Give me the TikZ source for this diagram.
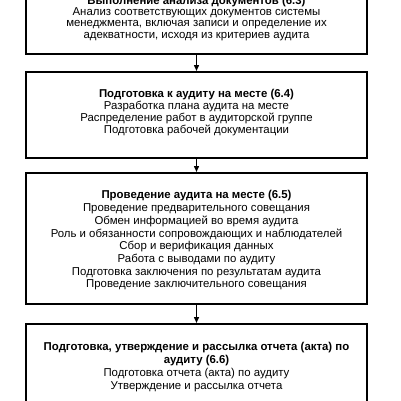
\documentclass[tikz,border=0pt]{standalone}
\usepackage{fontspec}
\setmainfont{Liberation Sans}
\usetikzlibrary{arrows.meta}
\begin{document}
\begin{tikzpicture}[x=1pt,y=-1pt,
  stage/.style={draw=black, line width=1.6pt, minimum width=341pt, inner sep=0pt, anchor=north},
  txt/.style={align=center, inner sep=0pt, anchor=north},
  flow/.style={line width=1.4pt, -{Triangle[length=6pt,width=5pt]}}]
\useasboundingbox (0,0) rectangle (401,400);
\fill[white] (0,0) rectangle (401,400);
\begin{scope}
\clip (0,0) rectangle (401,400);
\node[stage, minimum height=100pt] (b1) at (196.5,-47) {};
\node[stage, minimum height=86pt] (b2) at (196.5,71) {};
\node[stage, minimum height=131pt] (b3) at (196.5,172) {};
\node[stage, minimum height=120pt] (b4) at (196.5,323) {};
\node[txt, font=\fontsize{11.4}{11.2}\selectfont] (t1) at (196.5,-4) {\textbf{Выполнение анализа документов (6.3)}\\Анализ соответствующих документов системы\\менеджмента, включая записи и определение их\\адекватности, исходя из критериев аудита};
\node[txt, font=\fontsize{11.4}{12}\selectfont] (t2) at (196.5,88.7) {\textbf{Подготовка к аудиту на месте (6.4)}\\Разработка плана аудита на месте\\Распределение работ в аудиторской группе\\Подготовка рабочей документации};
\node[txt, font=\fontsize{11.4}{12.7}\selectfont] (t3) at (196.5,190.5) {\textbf{Проведение аудита на месте (6.5)}\\Проведение предварительного совещания\\Обмен информацией во время аудита\\Роль и обязанности сопровождающих и наблюдателей\\Сбор и верификация данных\\Работа с выводами по аудиту\\Подготовка заключения по результатам аудита\\Проведение заключительного совещания};
\node[txt, font=\fontsize{11.4}{13}\selectfont] (t4) at (196.5,342) {\textbf{Подготовка, утверждение и рассылка отчета (акта) по}\\\textbf{аудиту (6.6)}\\Подготовка отчета (акта) по аудиту\\Утверждение и рассылка отчета};
\draw[flow] (b1.south) -- (b2.north);
\draw[flow] (b2.south) -- (b3.north);
\draw[flow] (b3.south) -- (b4.north);
\end{scope}
\end{tikzpicture}
\end{document}
